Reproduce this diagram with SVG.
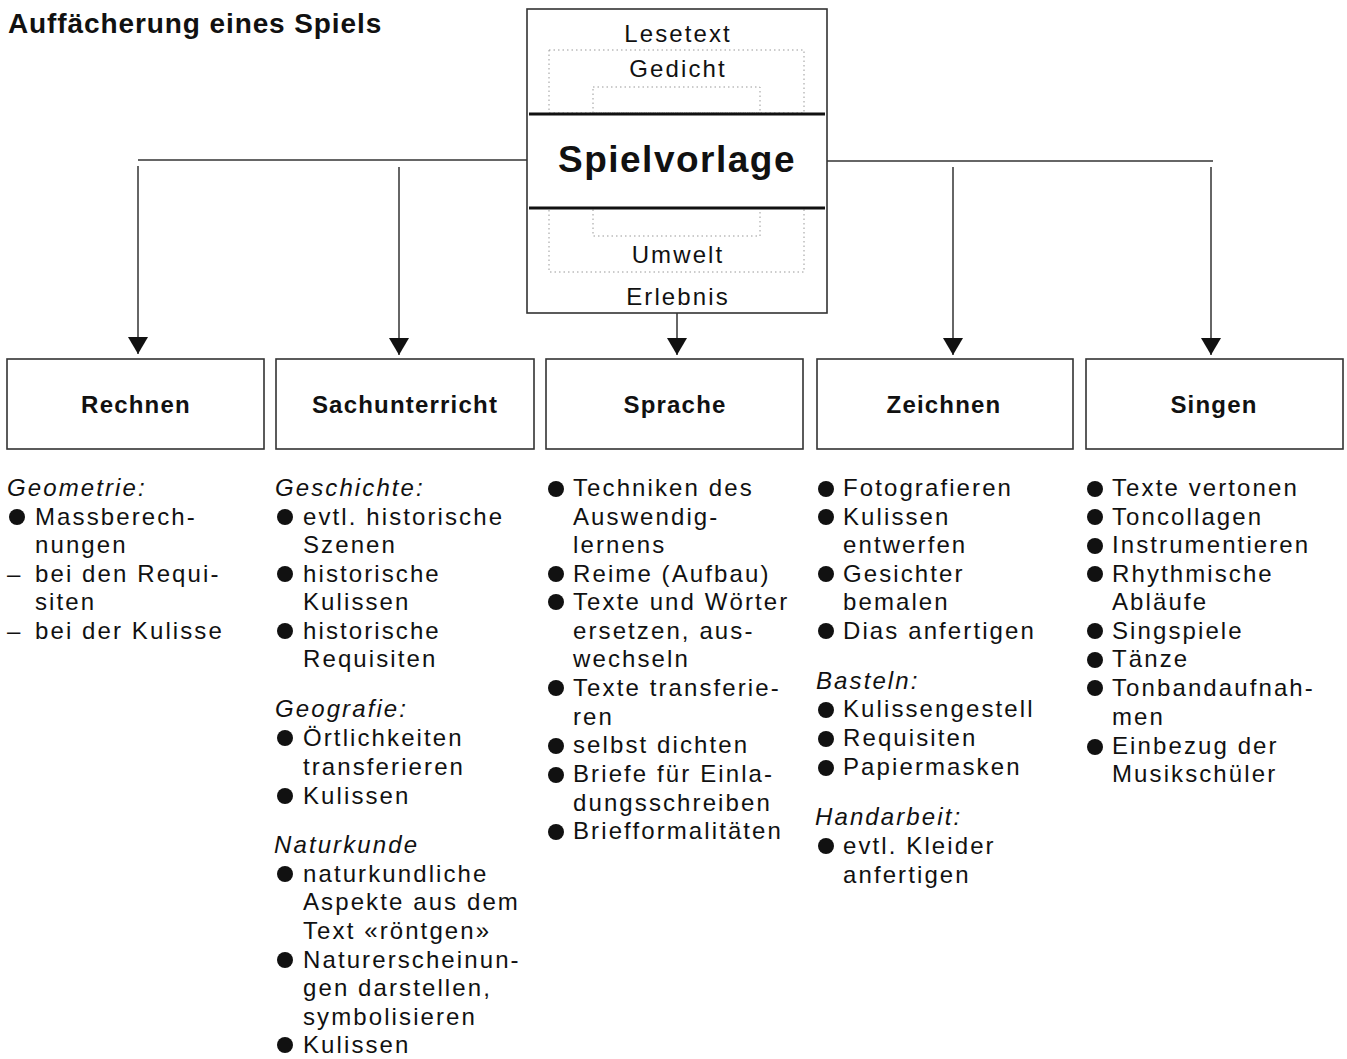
<svg xmlns="http://www.w3.org/2000/svg" width="1347" height="1059" viewBox="0 0 1347 1059">
<style>
  .t { font-family: "Liberation Sans", Arial, sans-serif; font-size: 24px; letter-spacing: 2.1px; fill: #111; }
  .i { font-style: italic; }
  .lbl { font-family: "Liberation Sans", Arial, sans-serif; font-size: 24px; font-weight: bold; letter-spacing: 1.2px; fill: #111; text-anchor: middle; }
  .title { font-family: "Liberation Sans", Arial, sans-serif; font-size: 28px; font-weight: bold; letter-spacing: 0.9px; fill: #111; }
  .box { fill: #fff; stroke: #333; stroke-width: 1.6; }
  .dot { fill: none; stroke: #999; stroke-width: 1; stroke-dasharray: 1.5 3; }
  .thick { stroke: #111; stroke-width: 3; }
  .conn { fill: none; stroke: #333; stroke-width: 1.5; }
  .b { fill: #111; }
  .c { text-anchor: middle; }
</style>
<defs>
  <marker id="arr" markerUnits="userSpaceOnUse" markerWidth="17" markerHeight="20" refX="17" refY="10" orient="auto" viewBox="0 0 17 20">
    <path d="M0,0 L17,10 L0,20 Z" fill="#111"/>
  </marker>
</defs>
<rect width="1347" height="1059" fill="#fff"/>

<text class="title" x="8" y="33">Auffächerung eines Spiels</text>

<g id="spielvorlage">
  <rect class="box" x="527" y="9" width="300" height="304"/>
  <rect class="dot" x="549" y="50" width="255" height="63"/>
  <rect class="dot" x="593" y="87" width="167" height="26"/>
  <rect class="dot" x="549" y="208" width="255" height="64"/>
  <rect class="dot" x="593" y="208" width="167" height="28"/>
  <line class="thick" x1="529" y1="114" x2="825" y2="114"/>
  <line class="thick" x1="529" y1="208" x2="825" y2="208"/>
  <text class="t c" x="678" y="42">Lesetext</text>
  <text class="t c" x="678" y="77">Gedicht</text>
  <text class="c" x="677" y="172" style="font-family:'Liberation Sans',Arial,sans-serif;font-size:37px;font-weight:bold;letter-spacing:1.5px;fill:#111">Spielvorlage</text>
  <text class="t c" x="678" y="263">Umwelt</text>
  <text class="t c" x="678" y="305">Erlebnis</text>
</g>

<g id="connectors">
  <polyline class="conn" points="527,160 138,160"/>
  <polyline class="conn" points="827,161 1213,161"/>
  <line class="conn" x1="138" y1="166" x2="138" y2="354" marker-end="url(#arr)"/>
  <line class="conn" x1="399" y1="167" x2="399" y2="355" marker-end="url(#arr)"/>
  <line class="conn" x1="677" y1="313" x2="677" y2="355" marker-end="url(#arr)"/>
  <line class="conn" x1="953" y1="167" x2="953" y2="355" marker-end="url(#arr)"/>
  <line class="conn" x1="1211" y1="167" x2="1211" y2="355" marker-end="url(#arr)"/>
</g>

<g id="rechnen">
  <rect class="box" x="7" y="359" width="257" height="90"/>
  <text class="lbl" x="136" y="413">Rechnen</text>
</g>
<g id="sachunterricht">
  <rect class="box" x="276" y="359" width="258" height="90"/>
  <text class="lbl" x="405" y="413">Sachunterricht</text>
</g>
<g id="sprache">
  <rect class="box" x="546" y="359" width="257" height="90"/>
  <text class="lbl" x="675" y="413">Sprache</text>
</g>
<g id="zeichnen">
  <rect class="box" x="817" y="359" width="256" height="90"/>
  <text class="lbl" x="944" y="413">Zeichnen</text>
</g>
<g id="singen">
  <rect class="box" x="1086" y="359" width="257" height="90"/>
  <text class="lbl" x="1214" y="413">Singen</text>
</g>

<g id="list-rechnen">
  <text class="t i" x="7" y="496">Geometrie:</text>
  <circle class="b" cx="17" cy="517" r="8"/>
  <text class="t" x="35" y="525">Massberech-</text>
  <text class="t" x="35" y="553">nungen</text>
  <text class="t" x="7" y="582">–</text>
  <text class="t" x="35" y="582">bei den Requi-</text>
  <text class="t" x="35" y="610">siten</text>
  <text class="t" x="7" y="639">–</text>
  <text class="t" x="35" y="639">bei der Kulisse</text>
</g>

<g id="list-sachunterricht">
  <text class="t i" x="275" y="496">Geschichte:</text>
  <circle class="b" cx="285" cy="517" r="8"/>
  <text class="t" x="303" y="525">evtl. historische</text>
  <text class="t" x="303" y="553">Szenen</text>
  <circle class="b" cx="285" cy="574" r="8"/>
  <text class="t" x="303" y="582">historische</text>
  <text class="t" x="303" y="610">Kulissen</text>
  <circle class="b" cx="285" cy="631" r="8"/>
  <text class="t" x="303" y="639">historische</text>
  <text class="t" x="303" y="667">Requisiten</text>
  <text class="t i" x="275" y="717">Geografie:</text>
  <circle class="b" cx="285" cy="738" r="8"/>
  <text class="t" x="303" y="746">Örtlichkeiten</text>
  <text class="t" x="303" y="775">transferieren</text>
  <circle class="b" cx="285" cy="796" r="8"/>
  <text class="t" x="303" y="804">Kulissen</text>
  <text class="t i" x="274" y="853">Naturkunde</text>
  <circle class="b" cx="285" cy="874" r="8"/>
  <text class="t" x="303" y="882">naturkundliche</text>
  <text class="t" x="303" y="910">Aspekte aus dem</text>
  <text class="t" x="303" y="939">Text «röntgen»</text>
  <circle class="b" cx="285" cy="960" r="8"/>
  <text class="t" x="303" y="968">Naturerscheinun-</text>
  <text class="t" x="303" y="996">gen darstellen,</text>
  <text class="t" x="303" y="1025">symbolisieren</text>
  <circle class="b" cx="285" cy="1045" r="8"/>
  <text class="t" x="303" y="1053">Kulissen</text>
</g>

<g id="list-sprache">
  <circle class="b" cx="556" cy="489" r="8"/>
  <text class="t" x="573" y="496">Techniken des</text>
  <text class="t" x="573" y="525">Auswendig-</text>
  <text class="t" x="573" y="553">lernens</text>
  <circle class="b" cx="556" cy="574" r="8"/>
  <text class="t" x="573" y="582">Reime (Aufbau)</text>
  <circle class="b" cx="556" cy="602" r="8"/>
  <text class="t" x="573" y="610">Texte und Wörter</text>
  <text class="t" x="573" y="639">ersetzen, aus-</text>
  <text class="t" x="573" y="667">wechseln</text>
  <circle class="b" cx="556" cy="688" r="8"/>
  <text class="t" x="573" y="696">Texte transferie-</text>
  <text class="t" x="573" y="725">ren</text>
  <circle class="b" cx="556" cy="746" r="8"/>
  <text class="t" x="573" y="753">selbst dichten</text>
  <circle class="b" cx="556" cy="775" r="8"/>
  <text class="t" x="573" y="782">Briefe für Einla-</text>
  <text class="t" x="573" y="811">dungsschreiben</text>
  <circle class="b" cx="556" cy="832" r="8"/>
  <text class="t" x="573" y="839">Briefformalitäten</text>
</g>

<g id="list-zeichnen">
  <circle class="b" cx="826" cy="489" r="8"/>
  <text class="t" x="843" y="496">Fotografieren</text>
  <circle class="b" cx="826" cy="517" r="8"/>
  <text class="t" x="843" y="525">Kulissen</text>
  <text class="t" x="843" y="553">entwerfen</text>
  <circle class="b" cx="826" cy="574" r="8"/>
  <text class="t" x="843" y="582">Gesichter</text>
  <text class="t" x="843" y="610">bemalen</text>
  <circle class="b" cx="826" cy="631" r="8"/>
  <text class="t" x="843" y="639">Dias anfertigen</text>
  <text class="t i" x="816" y="689">Basteln:</text>
  <circle class="b" cx="826" cy="710" r="8"/>
  <text class="t" x="843" y="717">Kulissengestell</text>
  <circle class="b" cx="826" cy="739" r="8"/>
  <text class="t" x="843" y="746">Requisiten</text>
  <circle class="b" cx="826" cy="768" r="8"/>
  <text class="t" x="843" y="775">Papiermasken</text>
  <text class="t i" x="815" y="825">Handarbeit:</text>
  <circle class="b" cx="826" cy="846" r="8"/>
  <text class="t" x="843" y="854">evtl. Kleider</text>
  <text class="t" x="843" y="883">anfertigen</text>
</g>

<g id="list-singen">
  <circle class="b" cx="1095" cy="489" r="8"/>
  <text class="t" x="1112" y="496">Texte vertonen</text>
  <circle class="b" cx="1095" cy="517" r="8"/>
  <text class="t" x="1112" y="525">Toncollagen</text>
  <circle class="b" cx="1095" cy="546" r="8"/>
  <text class="t" x="1112" y="553">Instrumentieren</text>
  <circle class="b" cx="1095" cy="574" r="8"/>
  <text class="t" x="1112" y="582">Rhythmische</text>
  <text class="t" x="1112" y="610">Abläufe</text>
  <circle class="b" cx="1095" cy="631" r="8"/>
  <text class="t" x="1112" y="639">Singspiele</text>
  <circle class="b" cx="1095" cy="660" r="8"/>
  <text class="t" x="1112" y="667">Tänze</text>
  <circle class="b" cx="1095" cy="688" r="8"/>
  <text class="t" x="1112" y="696">Tonbandaufnah-</text>
  <text class="t" x="1112" y="725">men</text>
  <circle class="b" cx="1095" cy="747" r="8"/>
  <text class="t" x="1112" y="754">Einbezug der</text>
  <text class="t" x="1112" y="782">Musikschüler</text>
</g>
</svg>
